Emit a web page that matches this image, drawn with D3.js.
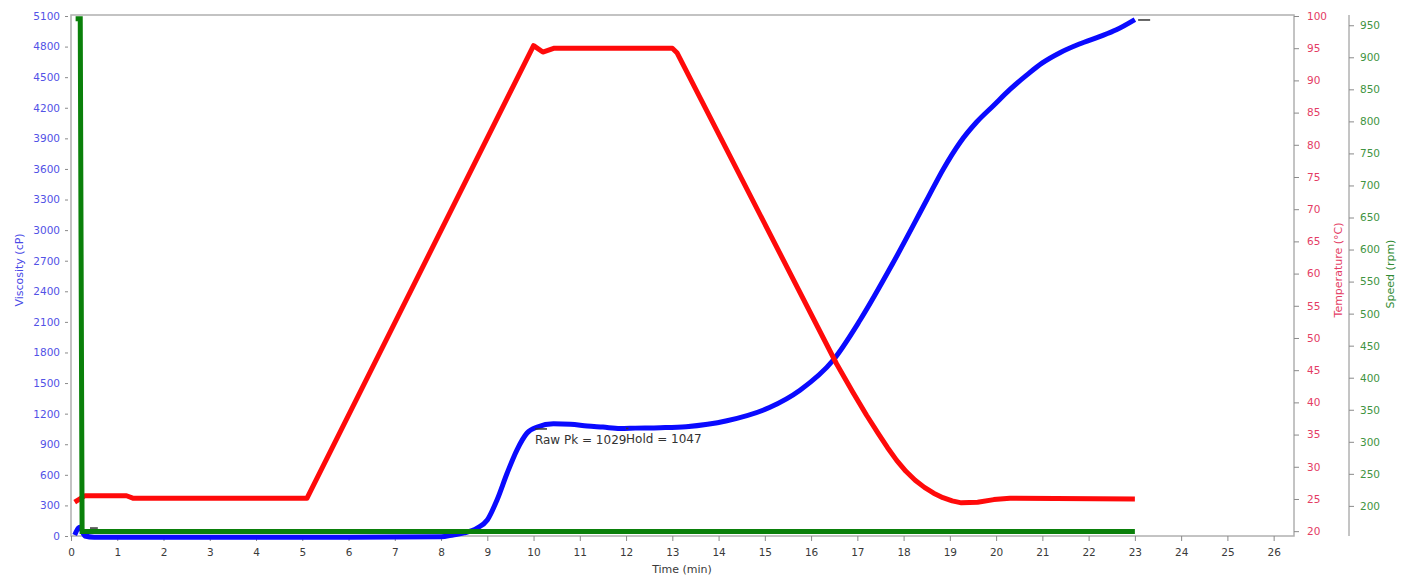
<!DOCTYPE html>
<html>
<head>
<meta charset="utf-8">
<script src="https://cdn.jsdelivr.net/npm/d3@7"></script>
<style>
  body { margin: 0; background: #ffffff; }
  svg text { font-family: "DejaVu Sans", Verdana, sans-serif; }
</style>
</head>
<body>
<div id="grafico"></div>
<script>
// Tiempo (min) y valores
const viscTime = [0.08, 0.19, 0.3, 0.5, 2, 4, 6, 8.0, 8.26, 8.5, 8.78, 9.0, 9.21, 9.43, 9.64, 9.86, 10.08, 10.43, 10.8, 11.16, 11.5, 11.87, 12.2, 12.74, 13.3, 14.18, 15.1, 15.76, 16.48, 17.06, 17.77, 18.5, 18.86, 19.22, 19.58, 19.94, 20.3, 20.66, 21.0, 21.38, 21.8, 22.25, 22.6, 23.0];
const viscVal  = [10, 85, 0, -12, -12, -12, -12, -8, 10, 30, 78, 157, 353, 618, 843, 1010, 1069, 1100, 1095, 1079, 1068, 1055, 1058, 1062, 1072, 1130, 1260, 1430, 1726, 2118, 2677, 3295, 3600, 3860, 4060, 4220, 4380, 4520, 4640, 4740, 4825, 4900, 4965, 5065];

const tempTime = [0.08, 0.3, 1.2, 1.35, 5.1, 10.0, 10.2, 10.45, 13.0, 13.1, 16.55, 16.9, 17.2, 17.45, 17.65, 17.85, 18.05, 18.25, 18.45, 18.65, 18.85, 19.05, 19.25, 19.6, 19.95, 20.3, 23.0];
const tempVal  = [24.5, 25.5, 25.5, 25.1, 25.1, 95.4, 94.4, 95.0, 95.0, 94.3, 46.0, 41.6, 38.0, 35.2, 33.0, 31.0, 29.3, 27.9, 26.8, 25.9, 25.2, 24.7, 24.4, 24.5, 24.9, 25.1, 25.0];

const speedTime = [0.1, 0.2, 0.24, 23.0];
const speedVal  = [960, 960, 160, 160];

const viscTicks = d3.range(0, 5101, 300);
const tempTicks = d3.range(20, 101, 5);
const speedTicks = d3.range(200, 951, 50);
const timeTicks = d3.range(0, 27, 1);

// marcas de anotacion
const marcas = [
    { t0: 10.03, t1: 10.29, v: 1050, texto: "Raw Pk = 1029" },
    { t0: 12.0, t1: 12.05, v: 1055, texto: "Hold = 1047" },
    { t0: 0.41, t1: 0.58, v: 78, texto: "" },
    { t0: 23.07, t1: 23.33, v: 5061, texto: "" }
];

const W = 1410, H = 582;
const margen = { left: 71, right: 1294, top: 15, bottom: 536 };

const svg = d3.select("#grafico").append("svg")
    .attr("width", W)
    .attr("height", H);

const x = d3.scaleLinear().domain([0, 26.44]).range([margen.left, margen.right]);
const yV = d3.scaleLinear().domain([0, 5100]).range([margen.bottom, margen.top + 1]);
const yT = d3.scaleLinear().domain([19.25, 100]).range([margen.bottom, margen.top + 1]);
const yS = d3.scaleLinear().domain([153, 966]).range([margen.bottom, margen.top]);

// marco
svg.append("rect")
    .attr("x", margen.left).attr("y", margen.top)
    .attr("width", margen.right - margen.left).attr("height", margen.bottom - margen.top)
    .attr("fill", "none")
    .attr("stroke", "#b0b0b0")
    .attr("stroke-width", 1.5);

function estiloEje(g, color) {
    g.select(".domain").remove();
    g.selectAll(".tick line").attr("stroke", "#8a8a8a");
    g.selectAll(".tick text").attr("fill", color).style("font-size", "10.5px");
}

// eje izquierdo (viscosidad)
svg.append("g")
    .attr("transform", `translate(${margen.left - 3},0)`)
    .call(d3.axisLeft(yV).tickValues(viscTicks).tickFormat(d3.format("d")).tickSize(3).tickPadding(5))
    .call(g => estiloEje(g, "#5252e6"));

// eje inferior (tiempo)
svg.append("g")
    .attr("transform", `translate(0,${margen.bottom})`)
    .call(d3.axisBottom(x).tickValues(timeTicks).tickSize(5).tickPadding(8))
    .call(g => estiloEje(g, "#3a3a3a"));

// eje temperatura
svg.append("g")
    .attr("transform", `translate(${margen.right},0)`)
    .call(d3.axisRight(yT).tickValues(tempTicks).tickSize(5).tickPadding(8))
    .call(g => estiloEje(g, "#e43c64"));

// eje velocidad
const ejeS = svg.append("g")
    .attr("transform", `translate(1349,0)`)
    .call(d3.axisRight(yS).tickValues(speedTicks).tickSize(5).tickPadding(6))
    .call(g => estiloEje(g, "#3f9442"));
ejeS.append("line")
    .attr("x1", 0).attr("x2", 0)
    .attr("y1", margen.top).attr("y2", margen.bottom)
    .attr("stroke", "#8a8a8a");

// titulos
svg.append("text")
    .attr("x", 682).attr("y", 573)
    .attr("text-anchor", "middle")
    .attr("fill", "#3a3a3a")
    .style("font-size", "11px")
    .text("Time (min)");

svg.append("text")
    .attr("transform", "translate(23,270) rotate(-90)")
    .attr("text-anchor", "middle")
    .attr("fill", "#4a4ae6")
    .style("font-size", "11px")
    .text("Viscosity (cP)");

svg.append("text")
    .attr("transform", "translate(1342,270) rotate(-90)")
    .attr("text-anchor", "middle")
    .attr("fill", "#e43c64")
    .style("font-size", "11px")
    .text("Temperature (°C)");

svg.append("text")
    .attr("transform", "translate(1394,274) rotate(-90)")
    .attr("text-anchor", "middle")
    .attr("fill", "#2f8a32")
    .style("font-size", "11px")
    .text("Speed (rpm)");

// lineas
const datosVisc = viscTime.map((t, i) => ({ t: t, v: viscVal[i] }));
const datosTemp = tempTime.map((t, i) => ({ t: t, v: tempVal[i] }));
const datosSpeed = speedTime.map((t, i) => ({ t: t, v: speedVal[i] }));

const lineaV = d3.line().x(d => x(d.t)).y(d => yV(d.v)).curve(d3.curveMonotoneX);
const lineaT = d3.line().x(d => x(d.t)).y(d => yT(d.v));
const lineaS = d3.line().x(d => x(d.t)).y(d => yS(d.v));

svg.append("path")
    .datum(datosVisc)
    .attr("d", lineaV)
    .attr("fill", "none")
    .attr("stroke", "#0a0aff")
    .attr("stroke-width", 5)
    .attr("stroke-linejoin", "round");

svg.append("path")
    .datum(datosTemp)
    .attr("d", lineaT)
    .attr("fill", "none")
    .attr("stroke", "#ff0a0a")
    .attr("stroke-width", 5)
    .attr("stroke-linejoin", "round");

svg.append("path")
    .datum(datosSpeed)
    .attr("d", lineaS)
    .attr("fill", "none")
    .attr("stroke", "#0a800a")
    .attr("stroke-width", 5);

// anotaciones
marcas.forEach(m => {
    svg.append("line")
        .attr("x1", x(m.t0)).attr("x2", x(m.t1))
        .attr("y1", yV(m.v)).attr("y2", yV(m.v))
        .attr("stroke", "#333")
        .attr("stroke-width", 1.5);
    if (m.texto) {
        svg.append("text")
            .attr("x", x(m.t0))
            .attr("y", yV(m.v) + 15)
            .attr("fill", "#333")
            .style("font-size", "12px")
            .text(m.texto);
    }
});
</script>
</body>
</html>
